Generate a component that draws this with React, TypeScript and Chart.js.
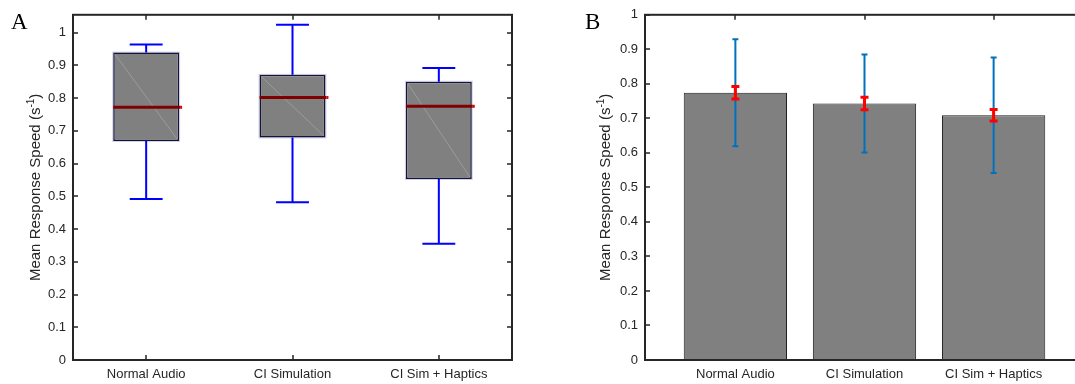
import { useEffect, useRef } from 'react';
import { Chart, registerables } from 'chart.js';

Chart.register(...registerables);

// ---- shared axes ----
const categories = ['Normal Audio', 'CI Simulation', 'CI Sim + Haptics'];
const categoryPositions = [1, 2, 3];
const yTickValues = [0, 0.1, 0.2, 0.3, 0.4, 0.5, 0.6, 0.7, 0.8, 0.9, 1];

// ---- panel A: box plot summary of mean response speed ----
const whiskerLow = [0.492, 0.482, 0.355];
const boxQ1 = [0.669, 0.68, 0.553];
const boxMedian = [0.772, 0.802, 0.775];
const boxQ3 = [0.939, 0.871, 0.85];
const whiskerHigh = [0.964, 1.024, 0.892];

// ---- panel B: mean with SD (blue) and SEM (red) ----
const meanSpeed = [0.774, 0.743, 0.709];
const sdSpeed = [0.155, 0.142, 0.167];
const semSpeed = [0.018, 0.018, 0.017];

const FONT = "'Liberation Sans', Arial, Helvetica, sans-serif";
const AXIS_COLOR = '#262626';
const Y_TITLE = 'Mean Response Speed (s';
const Y_TITLE_SUP = '-1';

const fmtTick = (v: number) => String(Number(v.toFixed(2)));

// MATLAB-style box: inward tick marks on every side, frame drawn over the data
const framePlugin = {
  id: 'frameBox',
  beforeDatasetsDraw(chart: any) {
    const { ctx, chartArea: a, scales } = chart;
    const len = 5;
    ctx.save();
    ctx.strokeStyle = AXIS_COLOR;
    ctx.lineWidth = 1.5;
    ctx.beginPath();
    for (const t of scales.y.ticks) {
      const py = Math.round(scales.y.getPixelForValue(t.value));
      ctx.moveTo(a.left, py);
      ctx.lineTo(a.left + len, py);
      ctx.moveTo(a.right, py);
      ctx.lineTo(a.right - len, py);
    }
    for (const t of scales.x.ticks) {
      const px = Math.round(scales.x.getPixelForValue(t.value));
      ctx.moveTo(px, a.top);
      ctx.lineTo(px, a.top + len);
      ctx.moveTo(px, a.bottom);
      ctx.lineTo(px, a.bottom - len);
    }
    ctx.stroke();
    ctx.restore();
  },
  afterDatasetsDraw(chart: any) {
    const { ctx, chartArea: a } = chart;
    ctx.save();
    ctx.strokeStyle = AXIS_COLOR;
    ctx.lineWidth = 2;
    ctx.strokeRect(a.left, a.top, a.right - a.left, a.bottom - a.top);
    ctx.restore();
  },
};

// Rotated y-axis title with a superscript unit
const makeYTitlePlugin = (baselineOffset: number) => ({
  id: 'yTitleSup',
  afterDraw(chart: any) {
    const { ctx, chartArea: a } = chart;
    const cx = a.left - baselineOffset;
    const cy = (a.top + a.bottom) / 2;
    ctx.save();
    ctx.translate(cx, cy);
    ctx.rotate(-Math.PI / 2);
    ctx.fillStyle = AXIS_COLOR;
    ctx.textBaseline = 'alphabetic';
    const mainFont = `15px ${FONT}`;
    const supFont = `10px ${FONT}`;
    ctx.font = mainFont;
    const w1 = ctx.measureText(Y_TITLE).width;
    const w3 = ctx.measureText(')').width;
    ctx.font = supFont;
    const w2 = ctx.measureText(Y_TITLE_SUP).width;
    let x0 = -(w1 + w2 + w3) / 2;
    ctx.font = mainFont;
    ctx.fillText(Y_TITLE, x0, 0);
    x0 += w1;
    ctx.font = supFont;
    ctx.fillText(Y_TITLE_SUP, x0, -6);
    x0 += w2;
    ctx.font = mainFont;
    ctx.fillText(')', x0, 0);
    ctx.restore();
  },
});

// Whiskers, medians and the faint diagonal inside each box
const boxDecorPlugin = {
  id: 'boxDecor',
  beforeDatasetsDraw(chart: any) {
    const { ctx } = chart;
    const meta = chart.getDatasetMeta(0);
    ctx.save();
    ctx.strokeStyle = 'rgba(90,90,170,0.28)';
    ctx.lineWidth = 2;
    meta.data.forEach((bar: any) => {
      const half = bar.width / 2;
      ctx.strokeRect(bar.x - half, Math.min(bar.y, bar.base), bar.width, Math.abs(bar.base - bar.y));
    });
    ctx.restore();
  },
  afterDatasetsDraw(chart: any) {
    const { ctx, scales } = chart;
    const y = scales.y;
    const meta = chart.getDatasetMeta(0);
    ctx.save();
    meta.data.forEach((bar: any, i: number) => {
      const cx = bar.x;
      const half = bar.width / 2;
      const left = cx - half;
      const right = cx + half;
      const yTop = y.getPixelForValue(boxQ3[i]);
      const yBot = y.getPixelForValue(boxQ1[i]);
      const yHi = y.getPixelForValue(whiskerHigh[i]);
      const yLo = y.getPixelForValue(whiskerLow[i]);
      const yMed = y.getPixelForValue(boxMedian[i]);
      const cap = bar.width / 4;

      ctx.strokeStyle = 'rgba(165,165,165,0.7)';
      ctx.lineWidth = 1;
      ctx.beginPath();
      ctx.moveTo(left + 2, yTop + 2);
      ctx.lineTo(right - 2, yBot - 2);
      ctx.stroke();

      ctx.strokeStyle = '#0000ff';
      ctx.lineWidth = 2;
      ctx.beginPath();
      ctx.moveTo(cx, yTop);
      ctx.lineTo(cx, yHi);
      ctx.moveTo(cx - cap, yHi);
      ctx.lineTo(cx + cap, yHi);
      ctx.moveTo(cx, yBot);
      ctx.lineTo(cx, yLo);
      ctx.moveTo(cx - cap, yLo);
      ctx.lineTo(cx + cap, yLo);
      ctx.stroke();

      ctx.strokeStyle = '#800000';
      ctx.lineWidth = 3;
      ctx.beginPath();
      ctx.moveTo(left, yMed);
      ctx.lineTo(right + 1, yMed);
      ctx.stroke();
      ctx.strokeStyle = '#e00000';
      ctx.beginPath();
      ctx.moveTo(right + 1, yMed);
      ctx.lineTo(right + 3, yMed);
      ctx.stroke();
    });
    ctx.restore();
  },
};

// SD (blue) and SEM (red) error bars on the mean bars
const errorBarPlugin = {
  id: 'errorBars',
  afterDatasetsDraw(chart: any) {
    const { ctx, scales } = chart;
    const y = scales.y;
    const meta = chart.getDatasetMeta(0);
    ctx.save();
    meta.data.forEach((bar: any, i: number) => {
      const cx = bar.x;
      const draw = (spread: number, color: string, lw: number, cap: number) => {
        const hi = y.getPixelForValue(meanSpeed[i] + spread);
        const lo = y.getPixelForValue(meanSpeed[i] - spread);
        ctx.strokeStyle = color;
        ctx.lineWidth = lw;
        ctx.beginPath();
        ctx.moveTo(cx, hi);
        ctx.lineTo(cx, lo);
        ctx.moveTo(cx - cap, hi);
        ctx.lineTo(cx + cap, hi);
        ctx.moveTo(cx - cap, lo);
        ctx.lineTo(cx + cap, lo);
        ctx.stroke();
      };
      draw(sdSpeed[i], '#0072bd', 2, 3);
      draw(semSpeed[i], '#ff0000', 3, 4);
    });
    ctx.restore();
  },
};

const tickFont = { family: FONT, size: 13 };

function xScale(min: number, max: number) {
  return {
    type: 'linear' as const,
    min,
    max,
    offset: false,
    grid: { display: false, drawTicks: false },
    border: { display: false },
    afterBuildTicks: (s: any) => {
      s.ticks = categoryPositions.map((v) => ({ value: v }));
    },
    afterFit: (s: any) => {
      s.height = 24;
    },
    ticks: {
      font: tickFont,
      color: AXIS_COLOR,
      padding: 7,
      autoSkip: false,
      maxRotation: 0,
      minRotation: 0,
      callback: (v: any) => categories[Math.round(Number(v)) - 1] ?? '',
    },
  };
}

function yScale(max: number, width: number) {
  return {
    type: 'linear' as const,
    min: 0,
    max,
    grid: { display: false, drawTicks: false },
    border: { display: false },
    afterBuildTicks: (s: any) => {
      s.ticks = yTickValues.map((v) => ({ value: v }));
    },
    afterFit: (s: any) => {
      s.width = width;
    },
    ticks: {
      font: tickFont,
      color: AXIS_COLOR,
      padding: 7,
      callback: (v: any) => fmtTick(Number(v)),
    },
  };
}

function makeBoxChart(canvas: HTMLCanvasElement) {
  return new Chart(canvas, {
    type: 'bar',
    data: {
      datasets: [
        {
          data: categoryPositions.map((x, i) => ({ x, y: [boxQ1[i], boxQ3[i]] })) as any,
          backgroundColor: '#808080',
          borderColor: '#141438',
          borderWidth: 1.5,
          borderSkipped: false,
          barPercentage: 0.45,
          categoryPercentage: 1,
        },
      ],
    },
    options: {
      responsive: false,
      animation: false,
      layout: { padding: { top: 12, right: 28, left: 0, bottom: 0 } },
      plugins: { legend: { display: false }, tooltip: { enabled: false } },
      scales: {
        x: xScale(0.5, 3.5),
        y: yScale(1.0545, 73),
      } as any,
    },
    plugins: [boxDecorPlugin, framePlugin, makeYTitlePlugin(33)],
  });
}

function makeBarChart(canvas: HTMLCanvasElement) {
  return new Chart(canvas, {
    type: 'bar',
    data: {
      datasets: [
        {
          data: categoryPositions.map((x, i) => ({ x, y: meanSpeed[i] })) as any,
          backgroundColor: '#808080',
          borderColor: '#1e1e1e',
          borderWidth: 1,
          barPercentage: 0.8,
          categoryPercentage: 1,
        },
      ],
    },
    options: {
      responsive: false,
      animation: false,
      layout: { padding: { top: 12, right: 11, left: 0, bottom: 0 } },
      plugins: { legend: { display: false }, tooltip: { enabled: false } },
      scales: {
        x: xScale(0.3, 3.7),
        y: yScale(1, 90),
      } as any,
    },
    plugins: [framePlugin, errorBarPlugin, makeYTitlePlugin(35)],
  });
}

const letterStyle = (left: number): React.CSSProperties => ({
  position: 'absolute',
  left,
  top: 10,
  fontFamily: "'Liberation Serif', 'Times New Roman', serif",
  fontSize: 23,
  lineHeight: 1,
  color: '#000',
});

export default function App() {
  const boxRef = useRef<HTMLCanvasElement>(null);
  const barRef = useRef<HTMLCanvasElement>(null);

  useEffect(() => {
    const a = makeBoxChart(boxRef.current!);
    const b = makeBarChart(barRef.current!);
    return () => {
      a.destroy();
      b.destroy();
    };
  }, []);

  return (
    <div
      style={{
        position: 'absolute',
        left: 0,
        top: 0,
        width: 1075,
        height: 384,
        overflow: 'hidden',
        background: '#fff',
      }}
    >
      <canvas
        ref={boxRef}
        width={540}
        height={384}
        style={{ position: 'absolute', left: 0, top: 0, width: 540, height: 384 }}
      />
      <canvas
        ref={barRef}
        width={540}
        height={384}
        style={{ position: 'absolute', left: 555, top: 0, width: 540, height: 384 }}
      />
      <div style={letterStyle(11)}>A</div>
      <div style={letterStyle(585)}>B</div>
    </div>
  );
}
